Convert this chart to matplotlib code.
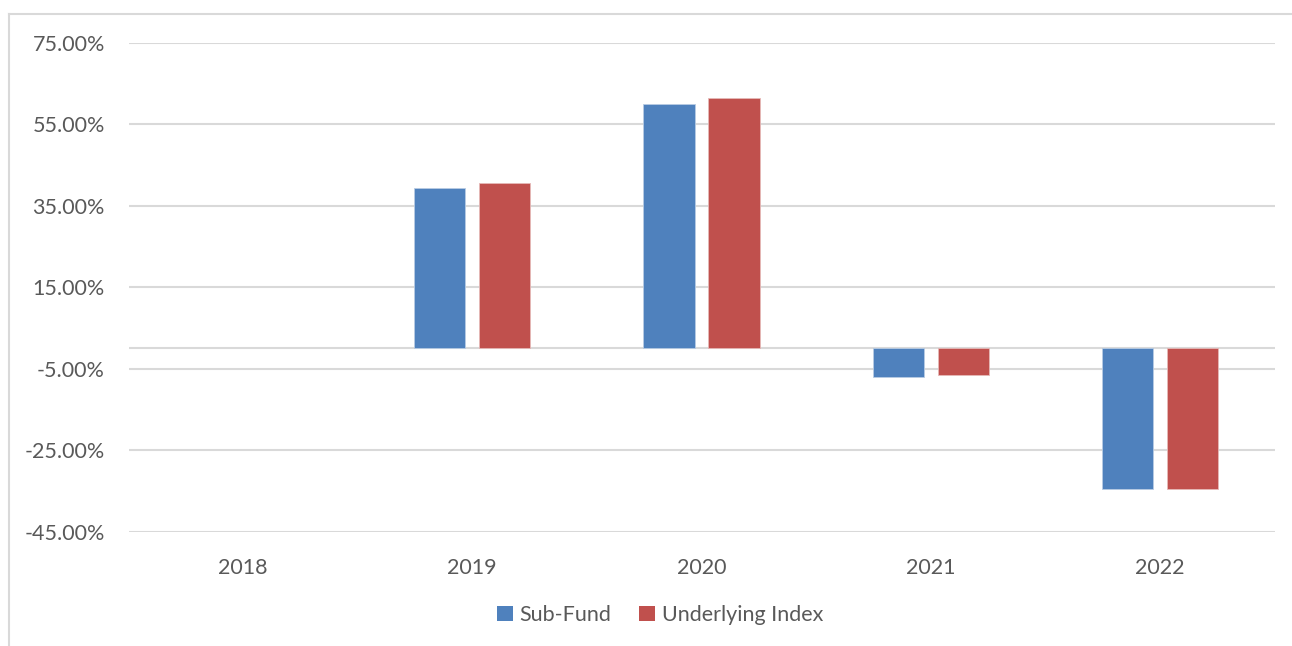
import numpy as np
import matplotlib; matplotlib.use("Agg")
import matplotlib.pyplot as plt
from matplotlib.patches import Patch
from matplotlib.lines import Line2D
from matplotlib.ticker import FuncFormatter

years = ["2018", "2019", "2020", "2021", "2022"]
sub_fund = [np.nan, 39.5, 60.0, -7.0, -34.6]
underlying = [np.nan, 40.7, 61.4, -6.4, -34.4]
yticks = [75, 55, 35, 15, -5, -25, -45]

BLUE = "#4F81BD"
RED = "#C0504D"
GRID = "#D9D9D9"
TXT = "#595959"

plt.rcParams["font.family"] = ["Lato", "DejaVu Sans"]

W, H = 1292, 646
fig = plt.figure(figsize=(W / 100, H / 100), dpi=100)
fig.patch.set_facecolor("white")

# chart-area border (left + top visible)
fig.add_artist(Line2D([9 / W, 9 / W], [0, 1 - 13.5 / H], color=GRID, lw=1.5))
fig.add_artist(Line2D([9 / W, 1], [1 - 13.5 / H, 1 - 13.5 / H], color=GRID, lw=1.5))

left, right = 128.5 / W, 1274.5 / W
top, bot = 1 - 43 / H, 1 - 531.7 / H
ax = fig.add_axes([left, bot, right - left, top - bot])

x = np.arange(len(years))
bw = 0.223
off = 0.142
ax.bar(x - off, sub_fund, bw, color=BLUE, edgecolor="#b8cce4", lw=0.6, zorder=3, label="Sub-Fund")
ax.bar(x + off, underlying, bw, color=RED, edgecolor="#e6b9b8", lw=0.6, zorder=3, label="Underlying Index")

ax.set_xlim(-0.5, len(years) - 0.5)
ax.set_ylim(-45, 75)
ax.set_yticks(yticks)
ax.yaxis.set_major_formatter(FuncFormatter(lambda v, p: f"{v:.2f}%"))
ax.set_xticks(x)
ax.set_xticklabels(years)
ax.grid(axis="y", color=GRID, lw=1.5, zorder=0)
ax.axhline(0, color=GRID, lw=1.5, zorder=2)
for s in ax.spines.values():
    s.set_visible(False)
ax.tick_params(axis="both", length=0, labelsize=15.5, colors=TXT)
ax.tick_params(axis="y", pad=17)
ax.tick_params(axis="x", pad=19)

handles = [Patch(facecolor=BLUE, label="Sub-Fund"), Patch(facecolor=RED, label="Underlying Index")]
fig.legend(handles=handles, loc="center", bbox_to_anchor=(660 / W, 1 - 615 / H), ncol=2,
           frameon=False, fontsize=15.5, labelcolor=TXT, handlelength=0.75, handleheight=0.75,
           handletextpad=0.3, columnspacing=1.3)

fig.savefig("out.png", dpi=100, facecolor="white")
